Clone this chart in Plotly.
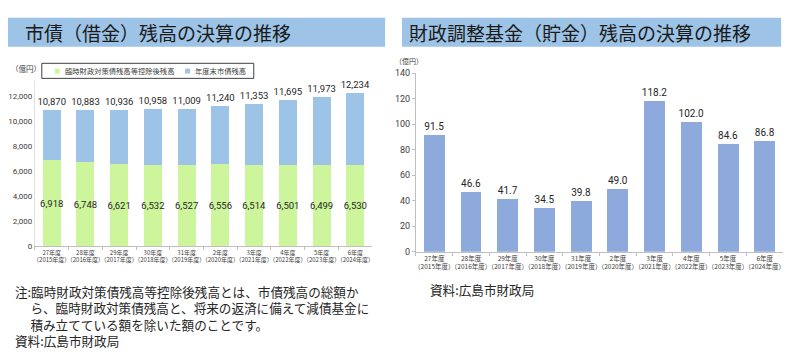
import plotly.graph_objects as go

W, H = 810, 354
def X(px): return px / W
def Y(py): return 1 - py / H

# ---- data ----
fiscal_labels = ["27年度", "28年度", "29年度", "30年度", "31年度", "2年度", "3年度", "4年度", "5年度", "6年度"]
year_labels = ["2015年度", "2016年度", "2017年度", "2018年度", "2019年度", "2020年度", "2021年度", "2022年度", "2023年度", "2024年度"]
debt_total = [10870, 10883, 10936, 10958, 11009, 11240, 11353, 11695, 11973, 12234]
debt_after_deduction = [6918, 6748, 6621, 6532, 6527, 6556, 6514, 6501, 6499, 6530]
fund_balance = [91.5, 46.6, 41.7, 34.5, 39.8, 49.0, 118.2, 102.0, 84.6, 86.8]
left_yticks = [0, 2000, 4000, 6000, 8000, 10000, 12000]
right_yticks = [0, 20, 40, 60, 80, 100, 120, 140]
note_lines = [
    "注:臨時財政対策債残高等控除後残高とは、市債残高の総額か",
    "ら、臨時財政対策債残高と、将来の返済に備えて減債基金に",
    "積み立てている額を除いた額のことです。",
]
source_text = "資料:広島市財政局"

cats = [f"{a}<br>（{b}）" for a, b in zip(fiscal_labels, year_labels)]
debt_rest = [t - g for t, g in zip(debt_total, debt_after_deduction)]

JP = "Noto Sans CJK JP"
NUM = "Roboto"
GREEN = "#CDF59B"
LBLUE = "#9DC3E6"
RBLUE = "#8EA9DB"

fig = go.Figure()
fig.add_trace(go.Bar(
    x=cats, y=debt_after_deduction, name="臨時財政対策債残高等控除後残高",
    marker=dict(color=GREEN, line=dict(width=0)), width=0.53,
    text=[f"{v:,}" for v in debt_after_deduction], textposition="inside",
    insidetextanchor="middle", textangle=0, constraintext="none",
    textfont=dict(family=NUM, size=9.5, color="#262626"),
    xaxis="x", yaxis="y", showlegend=False))
fig.add_trace(go.Bar(
    x=cats, y=debt_rest, name="年度末市債残高",
    marker=dict(color=LBLUE, line=dict(width=0)), width=0.53,
    text=[f"{v:,}" for v in debt_total], textposition="outside",
    textangle=0, constraintext="none", cliponaxis=False,
    textfont=dict(family=NUM, size=9.5, color="#262626"),
    xaxis="x", yaxis="y", showlegend=False))
fig.add_trace(go.Bar(
    x=cats, y=fund_balance, name="財政調整基金残高",
    marker=dict(color=RBLUE, line=dict(width=0)), width=0.57,
    text=[f"{v:.1f}" for v in fund_balance], textposition="outside",
    textangle=0, constraintext="none", cliponaxis=False,
    textfont=dict(family=NUM, size=10, color="#262626"),
    xaxis="x2", yaxis="y2", showlegend=False))

axis_common = dict(showgrid=False, zeroline=False, fixedrange=True)
fig.update_layout(
    width=W, height=H, margin=dict(l=0, r=0, t=0, b=0),
    paper_bgcolor="white", plot_bgcolor="white",
    barmode="stack", showlegend=False,
    xaxis=dict(domain=[X(33), X(372)], anchor="y", **axis_common,
               showline=True, linecolor="#BFBFBF", linewidth=1,
               ticks="outside", ticklen=3, tickcolor="#BFBFBF", tickson="boundaries",
               tickangle=0,
               tickfont=dict(family=JP, size=6.0, color="#404040")),
    yaxis=dict(domain=[Y(248.5), Y(78.55)], anchor="x", range=[0, 13200], **axis_common,
               showline=True, linecolor="#E0E0E0", linewidth=1,
               tickvals=left_yticks, ticktext=[f"{v:,}" for v in left_yticks],
               ticks="", tickfont=dict(family=NUM, size=8, color="#404040")),
    xaxis2=dict(domain=[X(416), X(785)], anchor="y2", **axis_common,
                showline=True, linecolor="#BFBFBF", linewidth=1,
                ticks="outside", ticklen=3, tickcolor="#BFBFBF", tickson="boundaries",
                tickangle=0,
                tickfont=dict(family=JP, size=6.5, color="#404040")),
    yaxis2=dict(domain=[Y(254), Y(70)], anchor="x2", range=[0, 140], **axis_common,
                showline=True, linecolor="#BFBFBF", linewidth=1,
                tickvals=right_yticks, ticks="outside", ticklen=3, tickcolor="#BFBFBF",
                tickfont=dict(family=NUM, size=9, color="#404040")),
)

shapes = []
annotations = []
# Title banners
for x0, x1, title, tx in [(6, 385, "市債（借金）残高の決算の推移", 21),
                          (402, 783, "財政調整基金（貯金）残高の決算の推移", 407)]:
    shapes.append(dict(type="rect", xref="paper", yref="paper", x0=X(x0), x1=X(x1),
                       y0=Y(43), y1=Y(13), fillcolor=LBLUE, line=dict(width=0), layer="below"))
    annotations.append(dict(text=title, xref="paper", yref="paper", x=X(tx), y=Y(28.5),
                            xanchor="left", yanchor="middle", showarrow=False,
                            font=dict(family=JP, size=19, color="#1A1A1A")))

# Unit labels
annotations.append(dict(text="（億円）", xref="paper", yref="paper", x=X(7), y=Y(65),
                        xanchor="left", yanchor="middle", showarrow=False,
                        font=dict(family=JP, size=7.5, color="#404040")))
annotations.append(dict(text="（億円）", xref="paper", yref="paper", x=X(393), y=Y(58),
                        xanchor="left", yanchor="middle", showarrow=False,
                        font=dict(family=JP, size=7, color="#404040")))

# Manual legend for left chart
shapes.append(dict(type="rect", xref="paper", yref="paper", x0=X(40), x1=X(253),
                   y0=Y(75.5), y1=Y(60), fillcolor="white", line=dict(color="#404040", width=1)))
for sx, color, label in [(53, GREEN, "臨時財政対策債残高等控除後残高"), (184, LBLUE, "年度末市債残高")]:
    shapes.append(dict(type="rect", xref="paper", yref="paper", x0=X(sx), x1=X(sx + 5),
                       y0=Y(70.5), y1=Y(65.5), fillcolor=color, line=dict(width=0)))
    annotations.append(dict(text=label, xref="paper", yref="paper", x=X(sx + 8), y=Y(68),
                            xanchor="left", yanchor="middle", showarrow=False,
                            font=dict(family=JP, size=7.3, color="#404040")))

# Notes (single text block)
indent = "　&nbsp;"
note_block = "<br>".join([note_lines[0]] + [indent + l for l in note_lines[1:]] + [source_text])
annotations.append(dict(text=note_block, xref="paper", yref="paper", x=X(11), y=Y(282.5),
                        xanchor="left", yanchor="top", align="left", showarrow=False,
                        font=dict(family=JP, size=12.6, color="#262626")))
annotations.append(dict(text=source_text, xref="paper", yref="paper", x=X(428), y=Y(293),
                        xanchor="left", yanchor="middle", showarrow=False,
                        font=dict(family=JP, size=12.6, color="#262626")))

fig.update_layout(shapes=shapes, annotations=annotations)
fig.write_html("out.html")
